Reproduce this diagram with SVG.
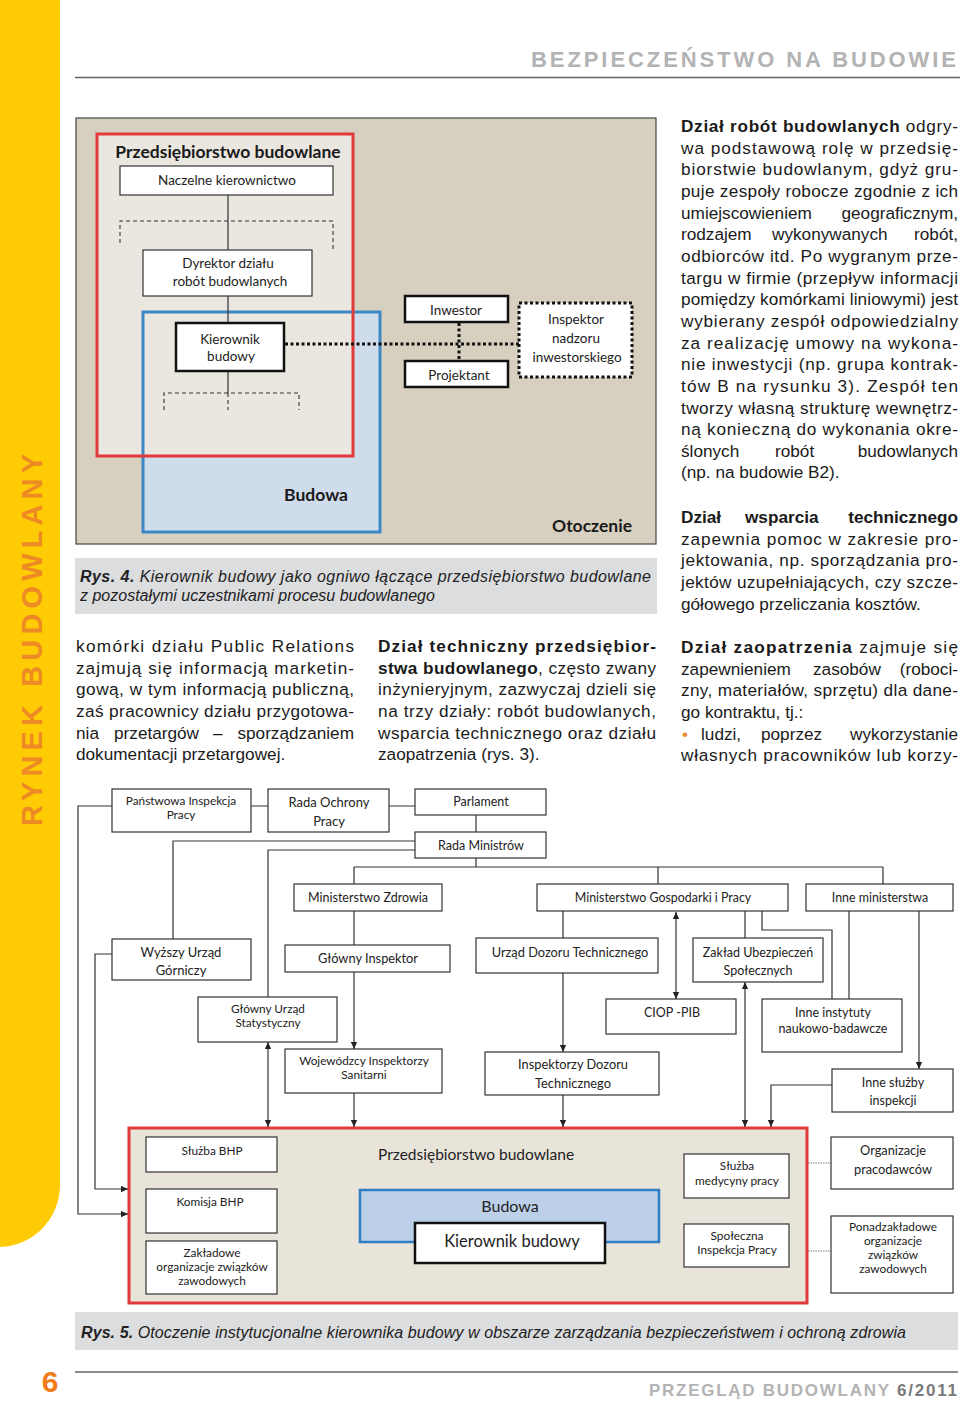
<svg xmlns="http://www.w3.org/2000/svg" width="960" height="1401" viewBox="0 0 960 1401" font-size="12">
<defs>
<style>
.bx{fill:#fff;stroke:#333;stroke-width:1.2}
.bk{fill:#fff;stroke:#111;stroke-width:2.5}
.t{font-family:Lato,"Open Sans",sans-serif;fill:#222;text-anchor:middle}
.tb{font-family:Lato,"Open Sans",sans-serif;fill:#1a1a1a;font-weight:bold;font-size:17.5px}
.body{font-family:"Liberation Sans",Arial,sans-serif;font-size:17.2px;fill:#1a1a1a}
.b{font-weight:bold}
.ln{fill:none;stroke:#333;stroke-width:1.2}
.ar{marker-end:url(#arr)}
.ar2{marker-start:url(#arr);marker-end:url(#arr)}
.dash{fill:none;stroke:#333;stroke-width:1.1;stroke-dasharray:4,3}
.dot{fill:none;stroke:#111;stroke-width:3;stroke-dasharray:3,2.5}
.cap{font-family:"Liberation Sans",Arial,sans-serif;font-style:italic;font-size:16px;fill:#222}
.hd{font-family:"Liberation Sans",Arial,sans-serif;font-weight:bold}
</style>
<marker id="arr" viewBox="0 0 10 10" refX="10" refY="5" markerWidth="7" markerHeight="7" markerUnits="userSpaceOnUse" orient="auto-start-reverse"><path d="M0,0.5 L10,5 L0,9.5 Z" fill="#222"/></marker>
</defs>
<rect width="960" height="1401" fill="#fff"/>

<!-- side band -->
<g id="band">
<path d="M0,0 H60 V1185 A62,62 0 0 1 0,1247 Z" fill="#FFCB05"/>
<text class="hd" transform="translate(42,826) rotate(-90)" font-size="29" fill="#EE8A24" textLength="372" lengthAdjust="spacing">RYNEK BUDOWLANY</text>
</g>

<!-- header -->
<g id="header">
<text class="hd" x="531" y="67" font-size="22" fill="#B3B3B3" textLength="425" lengthAdjust="spacing">BEZPIECZEŃSTWO NA BUDOWIE</text>
<line x1="75" y1="77.5" x2="960" y2="77.5" stroke="#666" stroke-width="1.3"/>
</g>

<!-- FIGURE 4 -->
<g id="fig4">
<rect x="76" y="118" width="580" height="426" fill="#D7D0C0" stroke="#444" stroke-width="1.2"/>
<rect id="fig4-budowa-bg" x="143" y="312" width="237" height="220" fill="#CEDCEB"/>
<rect id="fig4-firma-bg" x="97" y="134" width="256" height="322" fill="#EAE7E0"/>
<rect x="143" y="312" width="237" height="220" fill="none" stroke="#3C87C6" stroke-width="3"/>
<rect x="97" y="134" width="256" height="322" fill="none" stroke="#E2393B" stroke-width="3"/>
<text class="tb" x="228" y="158" text-anchor="middle">Przedsiębiorstwo budowlane</text>
<text class="tb" x="348" y="501" text-anchor="end">Budowa</text>
<text class="tb" x="632" y="532" text-anchor="end">Otoczenie</text>
</g>

<g id="fig4-connectors">
<path class="ln" d="M228,195 V250 M228,296 V323 M228,371 V393"/>
<path class="dash" d="M120,243 V221 H333 V250"/>
<path class="dash" d="M164,410 V393 H299 V410 M228,393 V410"/>
<path class="dot" d="M285,344 H519"/>
<path class="dot" d="M459,323 V361"/>
</g>

<g id="n-naczelne"><rect class="bx" x="120" y="166" width="213" height="29"/><text class="t" x="227" y="185" font-size="13.5">Naczelne  kierownictwo</text></g>
<g id="n-dyrektor"><rect class="bx" x="143" y="250" width="169" height="46"/><text class="t" x="228" y="268" font-size="13.5">Dyrektor działu</text><text class="t" x="230" y="286" font-size="13.5">robót budowlanych</text></g>
<g id="n-kierownik"><rect class="bk" x="176" y="323" width="108" height="48"/><text class="t" x="230" y="344" font-size="13.5">Kierownik</text><text class="t" x="231" y="361" font-size="13.5">budowy</text></g>
<g id="n-inwestor"><rect class="bk" x="405" y="296" width="103" height="26"/><text class="t" x="456" y="315" font-size="13.5">Inwestor</text></g>
<g id="n-projektant"><rect class="bk" x="405" y="361" width="103" height="26"/><text class="t" x="459" y="380" font-size="13.5">Projektant</text></g>
<g id="n-inspektor"><rect x="519" y="303" width="113" height="74" fill="#fff" stroke="#111" stroke-width="3" stroke-dasharray="3,2.5"/><text class="t" x="576" y="324" font-size="13.5">Inspektor</text><text class="t" x="576" y="343" font-size="13.5">nadzoru</text><text class="t" x="577" y="362" font-size="13.5">inwestorskiego</text></g>

<g id="caption4">
<rect x="75" y="558" width="582" height="56" fill="#DCDDDF"/>
<text class="cap" x="80" y="582" textLength="571"><tspan font-weight="900">Rys. 4.</tspan> Kierownik budowy jako ogniwo łączące przedsiębiorstwo budowlane</text>
<text class="cap" x="80" y="601">z pozostałymi uczestnikami procesu budowlanego</text>
</g>

<!-- body text -->
<g id="col1" class="body">
<text x="76" y="652" textLength="278">komórki działu Public Relations</text>
<text x="76" y="674" textLength="278">zajmują się informacją marketin-</text>
<text x="76" y="695" textLength="278">gową, w tym informacją publiczną,</text>
<text x="76" y="717" textLength="278">zaś pracownicy działu przygotowa-</text>
<text x="76" y="739">nia</text><text x="114" y="739">przetargów</text><text x="213" y="739">–</text><text x="354" y="739" text-anchor="end">sporządzaniem</text>
<text x="76" y="760">dokumentacji przetargowej.</text>
</g>
<g id="col2" class="body">
<text x="378" y="652" textLength="278" class="b">Dział techniczny przedsiębior-</text>
<text x="378" y="674" textLength="278"><tspan class="b">stwa budowlanego</tspan>, często zwany</text>
<text x="378" y="695" textLength="278">inżynieryjnym, zazwyczaj dzieli się</text>
<text x="378" y="717" textLength="278">na trzy działy: robót budowlanych,</text>
<text x="378" y="739" textLength="278">wsparcia technicznego oraz działu</text>
<text x="378" y="760">zaopatrzenia (rys. 3).</text>
</g>
<g id="col3" class="body">
<text x="681" y="132" textLength="277"><tspan class="b">Dział robót budowlanych</tspan> odgry-</text>
<text x="681" y="153.7" textLength="277">wa podstawową rolę w przedsię-</text>
<text x="681" y="175.3" textLength="277">biorstwie budowlanym, gdyż gru-</text>
<text x="681" y="197" textLength="277">puje zespoły robocze zgodnie z ich</text>
<text x="681" y="218.6">umiejscowieniem</text><text x="958" y="218.6" text-anchor="end">geograficznym,</text>
<text x="681" y="240.3">rodzajem</text><text x="772" y="240.3">wykonywanych</text><text x="958" y="240.3" text-anchor="end">robót,</text>
<text x="681" y="261.9" textLength="277">odbiorców itd. Po wygranym prze-</text>
<text x="681" y="283.6" textLength="277">targu w firmie (przepływ informacji</text>
<text x="681" y="305.2" textLength="277">pomiędzy komórkami liniowymi) jest</text>
<text x="681" y="326.9" textLength="277">wybierany zespół odpowiedzialny</text>
<text x="681" y="348.5" textLength="277">za realizację umowy na wykona-</text>
<text x="681" y="370.2" textLength="277">nie inwestycji (np. grupa kontrak-</text>
<text x="681" y="391.8" textLength="277">tów B na rysunku 3). Zespół ten</text>
<text x="681" y="413.5" textLength="277">tworzy własną strukturę wewnętrz-</text>
<text x="681" y="435.1" textLength="277">ną konieczną do wykonania okre-</text>
<text x="681" y="456.8">ślonych</text><text x="775" y="456.8">robót</text><text x="958" y="456.8" text-anchor="end">budowlanych</text>
<text x="681" y="478.4">(np. na budowie B2).</text>
<text x="681" y="523" class="b">Dział</text><text x="745" y="523" class="b">wsparcia</text><text x="958" y="523" class="b" text-anchor="end">technicznego</text>
<text x="681" y="544.7" textLength="277">zapewnia pomoc w zakresie pro-</text>
<text x="681" y="566.3" textLength="277">jektowania, np. sporządzania pro-</text>
<text x="681" y="588" textLength="277">jektów uzupełniających, czy szcze-</text>
<text x="681" y="609.6">gółowego przeliczania kosztów.</text>
<text x="681" y="653" textLength="277"><tspan class="b">Dział zaopatrzenia</tspan> zajmuje się</text>
<text x="681" y="674.7">zapewnieniem</text><text x="813" y="674.7">zasobów</text><text x="958" y="674.7" text-anchor="end">(roboci-</text>
<text x="681" y="696.3" textLength="277">zny, materiałów, sprzętu) dla dane-</text>
<text x="681" y="718">go kontraktu, tj.:</text>
<text x="682" y="739.6" fill="#EE8A24">•</text><text x="701" y="739.6">ludzi,</text><text x="761" y="739.6">poprzez</text><text x="958" y="739.6" text-anchor="end">wykorzystanie</text>
<text x="681" y="761.3" textLength="277">własnych pracowników lub korzy-</text>
</g>

<!-- FIGURE 5 -->
<g id="fig5-frame">
<rect x="129" y="1128" width="678" height="175" fill="#E8E4DA" stroke="#E2393B" stroke-width="3"/>
<text class="t" x="378" y="1160" font-size="15.5" style="text-anchor:start">Przedsiębiorstwo  budowlane</text>
</g>

<g id="fig5-connectors">
<path class="ln" d="M251,806 H268 M389,806 H415 M476,815 V832"/>
<path class="ln" d="M415,841 H173 V939"/>
<path class="ln" d="M415,850 H268 V997"/>
<path class="ln" d="M476,858 V867 M354,867 H883 M354,867 V884 M658,867 V884 M883,867 V884"/>
<path class="ln" d="M354,911 V945"/>
<path class="ln ar" d="M354,972 V1049"/>
<path class="ln ar" d="M354,1093 V1127"/>
<path class="ln ar2" d="M268,1042 V1127"/>
<path class="ln ar" d="M112,806 H78 V1214 H128"/>
<path class="ln ar" d="M112,954 H95 V1189 H128"/>
<path class="ln" d="M563,911 V938"/>
<path class="ln ar" d="M563,973 V1052"/>
<path class="ln ar" d="M563,1095 V1127"/>
<path class="ln ar2" d="M676,912 V999"/>
<path class="ln" d="M745,911 V938"/>
<path class="ln ar2" d="M745,982 V1127"/>
<path class="ln" d="M762,911 V930 H832 V999"/>
<path class="ln" d="M849,911 V999"/>
<path class="ln ar" d="M919,911 V1069"/>
<path class="ln ar" d="M832,1085 H771 V1127"/>
<path d="M808,1163 H831 M808,1251 H831" fill="none" stroke="#777" stroke-width="1" stroke-dasharray="1.5,1"/>
</g>

<g id="n-pip"><rect class="bx" x="112" y="789" width="139" height="43"/><text class="t" x="181" y="805" font-size="11.8">Państwowa Inspekcja</text><text class="t" x="181" y="819" font-size="11.8">Pracy</text></g>
<g id="n-rop"><rect class="bx" x="268" y="789" width="121" height="43"/><text class="t" x="329" y="807" font-size="13">Rada Ochrony</text><text class="t" x="329" y="826" font-size="13">Pracy</text></g>
<g id="n-parlament"><rect class="bx" x="415" y="789" width="131" height="26"/><text class="t" x="481" y="806" font-size="12.5">Parlament</text></g>
<g id="n-rm"><rect class="bx" x="415" y="832" width="131" height="26"/><text class="t" x="481" y="850" font-size="12.5">Rada Ministrów</text></g>
<g id="n-mz"><rect class="bx" x="294" y="884" width="148" height="27"/><text class="t" x="368" y="902" font-size="12.5">Ministerstwo Zdrowia</text></g>
<g id="n-mgip"><rect class="bx" x="537" y="884" width="251" height="27"/><text class="t" x="663" y="902" font-size="12.4">Ministerstwo Gospodarki i Pracy</text></g>
<g id="n-innemin"><rect class="bx" x="806" y="884" width="147" height="27"/><text class="t" x="880" y="902" font-size="12.4">Inne ministerstwa</text></g>
<g id="n-wug"><rect class="bx" x="112" y="939" width="139" height="41"/><text class="t" x="181" y="957" font-size="13">Wyższy Urząd</text><text class="t" x="181" y="975" font-size="13">Górniczy</text></g>
<g id="n-gi"><rect class="bx" x="285" y="945" width="165" height="27"/><text class="t" x="368" y="963" font-size="12.8">Główny Inspektor</text></g>
<g id="n-udt"><rect class="bx" x="476" y="938" width="182" height="35"/><text class="t" x="570" y="957" font-size="12.8">Urząd Dozoru Technicznego</text></g>
<g id="n-zus"><rect class="bx" x="693" y="938" width="130" height="44"/><text class="t" x="758" y="957" font-size="12.5">Zakład Ubezpieczeń</text><text class="t" x="758" y="975" font-size="12.5">Społecznych</text></g>
<g id="n-gus"><rect class="bx" x="198" y="997" width="139" height="45"/><text class="t" x="268" y="1013" font-size="11.8">Główny Urząd</text><text class="t" x="268" y="1027" font-size="11.8">Statystyczny</text></g>
<g id="n-ciop"><rect class="bx" x="606" y="999" width="130" height="35"/><text class="t" x="672" y="1017" font-size="12.5">CIOP -PIB</text></g>
<g id="n-inneinst"><rect class="bx" x="762" y="999" width="140" height="53"/><text class="t" x="833" y="1017" font-size="12.5">Inne instytuty</text><text class="t" x="833" y="1033" font-size="12.5">naukowo-badawcze</text></g>
<g id="n-wis"><rect class="bx" x="285" y="1049" width="157" height="44"/><text class="t" x="364" y="1065" font-size="11.8">Wojewódzcy Inspektorzy</text><text class="t" x="364" y="1079" font-size="11.8">Sanitarni</text></g>
<g id="n-idt"><rect class="bx" x="485" y="1052" width="174" height="43"/><text class="t" x="573" y="1069" font-size="12.8">Inspektorzy Dozoru</text><text class="t" x="573" y="1088" font-size="12.8">Technicznego</text></g>
<g id="n-innesl"><rect class="bx" x="832" y="1069" width="121" height="43"/><text class="t" x="893" y="1087" font-size="12.5">Inne służby</text><text class="t" x="893" y="1105" font-size="12.5">inspekcji</text></g>

<g id="n-sluzbabhp"><rect class="bx" x="146" y="1137" width="131" height="35"/><text class="t" x="212" y="1155" font-size="11.8">Służba BHP</text></g>
<g id="n-komisja"><rect class="bx" x="146" y="1189" width="131" height="44"/><text class="t" x="210" y="1206" font-size="11.8">Komisja BHP</text></g>
<g id="n-zakladowe"><rect class="bx" x="146" y="1241" width="131" height="53"/><text class="t" x="212" y="1257" font-size="11.8">Zakładowe</text><text class="t" x="212" y="1271" font-size="11.8">organizacje związków</text><text class="t" x="212" y="1285" font-size="11.8">zawodowych</text></g>
<g id="n-budowa"><rect x="360" y="1190" width="299" height="52" fill="#BCD0EA" stroke="#2F7EC1" stroke-width="2.5"/><text class="t" x="510" y="1212" font-size="16">Budowa</text></g>
<g id="n-kierownik2"><rect class="bk" x="415" y="1223" width="190" height="40"/><text class="t" x="512" y="1247" font-size="16.5">Kierownik budowy</text></g>
<g id="n-medycyna"><rect class="bx" x="684" y="1154" width="105" height="44"/><text class="t" x="737" y="1170" font-size="11.8">Służba</text><text class="t" x="737" y="1185" font-size="11.8">medycyny pracy</text></g>
<g id="n-sip"><rect class="bx" x="684" y="1224" width="105" height="43"/><text class="t" x="737" y="1240" font-size="11.8">Społeczna</text><text class="t" x="737" y="1254" font-size="11.8">Inspekcja Pracy</text></g>
<g id="n-orgprac"><rect class="bx" x="831" y="1137" width="122" height="52"/><text class="t" x="893" y="1155" font-size="12.8">Organizacje</text><text class="t" x="893" y="1174" font-size="12.8">pracodawców</text></g>
<g id="n-ponad"><rect class="bx" x="831" y="1216" width="122" height="77"/><text class="t" x="893" y="1231" font-size="11.8">Ponadzakładowe</text><text class="t" x="893" y="1245" font-size="11.8">organizacje</text><text class="t" x="893" y="1259" font-size="11.8">związków</text><text class="t" x="893" y="1273" font-size="11.8">zawodowych</text></g>

<g id="caption5">
<rect x="75" y="1312" width="883" height="38" fill="#DCDDDF"/>
<text class="cap" x="81" y="1338" textLength="825"><tspan font-weight="900">Rys. 5.</tspan> Otoczenie instytucjonalne kierownika budowy w obszarze zarządzania bezpieczeństwem i ochroną zdrowia</text>
</g>

<!-- footer -->
<g id="footer">
<line x1="75" y1="1372" x2="958" y2="1372" stroke="#666" stroke-width="1.3"/>
<text class="hd" x="50" y="1392" text-anchor="middle" font-size="30" fill="#F07D1A">6</text>
<text class="hd" x="649" y="1396" font-size="17" fill="#B3B3B3" textLength="240" lengthAdjust="spacing">PRZEGLĄD BUDOWLANY</text>
<text class="hd" x="897" y="1396" font-size="17" fill="#7A7A7A" textLength="60" lengthAdjust="spacing">6/2011</text>
</g>
</svg>
